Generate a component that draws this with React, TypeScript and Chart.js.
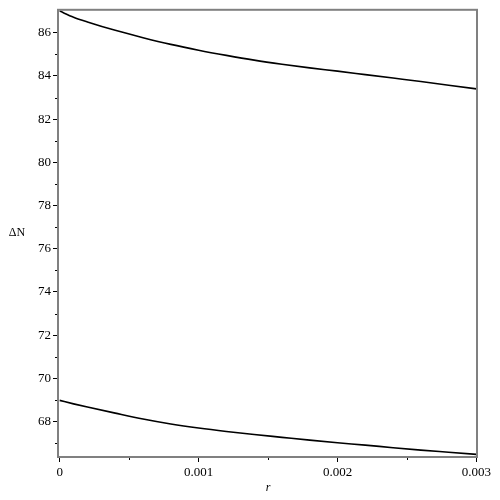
import React, { useEffect, useRef } from "react";
import { Chart, registerables } from "chart.js";

Chart.register(...registerables);

const rValues = [0, 0.0001, 0.0002, 0.0004, 0.0006, 0.0008, 0.001, 0.0012, 0.0014, 0.0016, 0.0018, 0.002, 0.0022, 0.0024, 0.0026, 0.0028, 0.003];
const upperN = [87.0, 86.72, 86.5, 86.11, 85.77, 85.46, 85.19, 84.95, 84.73, 84.54, 84.37, 84.22, 84.06, 83.9, 83.74, 83.57, 83.4];
const lowerN = [68.98, 68.82, 68.67, 68.39, 68.12, 67.89, 67.7, 67.54, 67.4, 67.27, 67.14, 67.02, 66.91, 66.79, 66.68, 66.58, 66.48];
const yMinorTicks = [67, 69, 71, 73, 75, 77, 79, 81, 83, 85];
const xMinorTicks = [0.0005, 0.0015, 0.0025];
const xTickLabels: Record<string, string> = { "0": "0", "0.001": "0.001", "0.002": "0.002", "0.003": "0.003" };

const FONT = "'Liberation Serif', 'Times New Roman', serif";

const framePlugin = {
  id: "framePlugin",
  afterDraw(chart: any) {
    const { ctx, chartArea } = chart;
    const xs = chart.scales.x;
    const ys = chart.scales.y;
    ctx.save();
    ctx.strokeStyle = "#000";
    ctx.lineWidth = 1;
    ctx.beginPath();
    for (const v of yMinorTicks) {
      const py = Math.round(ys.getPixelForValue(v)) + 0.5;
      ctx.moveTo(chartArea.left - 3, py);
      ctx.lineTo(chartArea.left, py);
    }
    for (const v of xMinorTicks) {
      const px = Math.round(xs.getPixelForValue(v)) + 0.5;
      ctx.moveTo(px, chartArea.bottom);
      ctx.lineTo(px, chartArea.bottom + 3);
    }
    ctx.stroke();
    ctx.strokeStyle = "#808080";
    ctx.lineWidth = 2;
    ctx.strokeRect(chartArea.left, chartArea.top, chartArea.right - chartArea.left, chartArea.bottom - chartArea.top);
    ctx.fillStyle = "#000";
    ctx.font = `12px ${FONT}`;
    ctx.textAlign = "center";
    ctx.textBaseline = "middle";
    ctx.fillText("ΔN", 17, 233);
    ctx.font = `italic 12px ${FONT}`;
    ctx.fillText("r", 268, 488);
    ctx.restore();
  },
};

export default function App() {
  const canvasRef = useRef<HTMLCanvasElement | null>(null);

  useEffect(() => {
    const canvas = canvasRef.current;
    if (!canvas) return;
    const chart = new Chart(canvas, {
      type: "scatter",
      data: {
        datasets: [
          {
            data: rValues.map((r, i) => ({ x: r, y: upperN[i] })),
            showLine: true,
            borderColor: "#000",
            borderWidth: 1.6,
            pointRadius: 0,
            cubicInterpolationMode: "monotone",
          },
          {
            data: rValues.map((r, i) => ({ x: r, y: lowerN[i] })),
            showLine: true,
            borderColor: "#000",
            borderWidth: 1.6,
            pointRadius: 0,
            cubicInterpolationMode: "monotone",
          },
        ],
      },
      options: {
        animation: false,
        responsive: false,
        maintainAspectRatio: false,
        layout: { padding: { left: 0, top: 6, right: 23, bottom: 0 } },
        plugins: { legend: { display: false }, tooltip: { enabled: false } },
        scales: {
          x: {
            type: "linear",
            min: -0.000012,
            max: 0.003004,
            afterFit: (s: any) => {
              s.height = 43;
            },
            border: { display: false },
            grid: { drawOnChartArea: false, drawTicks: true, tickLength: 5, color: "#000" },
            ticks: {
              stepSize: 0.001,
              includeBounds: false,
              autoSkip: false,
              maxRotation: 0,
              padding: 3,
              color: "#000",
              font: { family: FONT, size: 13 },
              callback: (v: any) => {
                const key = String(Math.round(Number(v) * 1000) / 1000);
                return xTickLabels[key] ?? "";
              },
            },
          },
          y: {
            type: "linear",
            min: 66.36,
            max: 87.06,
            afterFit: (s: any) => {
              s.width = 58;
            },
            border: { display: false },
            grid: { drawOnChartArea: false, drawTicks: true, tickLength: 5, color: "#000" },
            ticks: {
              stepSize: 2,
              includeBounds: false,
              autoSkip: false,
              padding: 2,
              color: "#000",
              font: { family: FONT, size: 13 },
              callback: (v: any) => String(Math.round(Number(v))),
            },
          },
        },
      },
      plugins: [framePlugin],
    });
    return () => chart.destroy();
  }, []);

  return (
    <div style={{ position: "fixed", left: 0, top: 0, width: 500, height: 500, background: "#fff" }}>
      <canvas ref={canvasRef} width={500} height={500} style={{ width: 500, height: 500 }} />
    </div>
  );
}
